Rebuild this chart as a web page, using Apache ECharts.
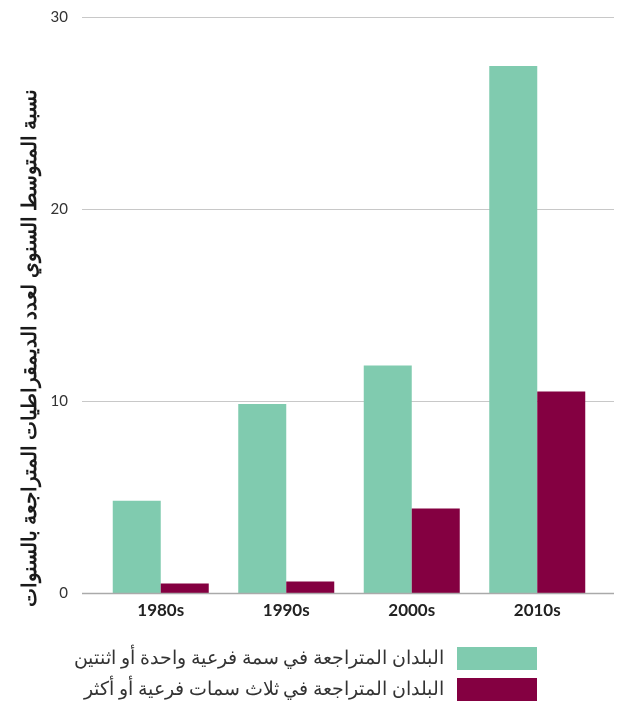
<!DOCTYPE html>
<html><head><meta charset="utf-8">
<script src="https://cdn.jsdelivr.net/npm/echarts@6/dist/echarts.min.js"></script>
<style>html,body{margin:0;padding:0;background:#fff}#c{width:624px;height:708px}</style>
</head><body><div id="c"></div>
<script>
const categories = ['1980s', '1990s', '2000s', '2010s'];
const series1Name = 'البلدان المتراجعة في سمة فرعية واحدة أو اثنتين';
const series2Name = 'البلدان المتراجعة في ثلاث سمات فرعية أو أكثر';
const series1Values = [4.8, 9.85, 11.85, 27.45];
const series2Values = [0.5, 0.6, 4.4, 10.5];
const yAxisTitle = 'نسبة المتوسط السنوي لعدد الديمقراطيات المتراجعة بالسنوات';

const chart = echarts.init(document.getElementById('c'));
chart.setOption({
  animation: false,
  backgroundColor: '#fff',
  grid: [
    {left: 82, right: 10, top: 17, bottom: 115},
    {left: 98, right: 24, top: 17, bottom: 115}
  ],
  xAxis: [
    {gridIndex: 0, type: 'value', show: false, min: 0, max: 1},
    {gridIndex: 1, type: 'category', data: categories,
     axisLine: {show: false}, axisTick: {show: false},
     axisLabel: {margin: 9, fontSize: 17, fontWeight: 'bold', color: '#222', fontFamily: 'Lato'}}
  ],
  yAxis: [
    {gridIndex: 0, type: 'value', min: 0, max: 30, interval: 10,
     axisLine: {show: false}, axisTick: {show: false},
     axisLabel: {margin: 14, fontSize: 15, color: '#333', fontFamily: 'Lato'},
     splitLine: {lineStyle: {color: '#c8c8c8', width: 1}}},
    {gridIndex: 1, type: 'value', min: 0, max: 30, interval: 10, show: false}
  ],
  legend: [
    {data: [series1Name], right: 82, top: 642, orient: 'vertical', align: 'right',
     itemWidth: 80, itemHeight: 23, icon: 'rect',
     textStyle: {fontSize: 18.5, color: '#333', fontFamily: 'Noto Sans', padding: [0, 8, 0, 0]}},
    {data: [series2Name], right: 82, top: 673, orient: 'vertical', align: 'right',
     itemWidth: 80, itemHeight: 23, icon: 'rect',
     textStyle: {fontSize: 18.5, color: '#333', fontFamily: 'Noto Sans', padding: [0, 8, 0, 0]}}
  ],
  graphic: [
    {type: 'text', x: 30, y: 348, rotation: Math.PI / 2,
     style: {text: yAxisTitle, fontSize: 19.5, fontWeight: 'bold', fill: '#1a1a1a',
             fontFamily: 'Noto Sans', align: 'center', verticalAlign: 'middle'}},
    {type: 'line', shape: {x1: 82, y1: 593.5, x2: 614, y2: 593.5},
     style: {stroke: '#aaaaaa', lineWidth: 1.5}, z: 10}
  ],
  series: [
    {name: series1Name, type: 'bar', xAxisIndex: 1, yAxisIndex: 1, data: series1Values,
     barWidth: 48, barGap: '0%', itemStyle: {color: '#80cbaf'}},
    {name: series2Name, type: 'bar', xAxisIndex: 1, yAxisIndex: 1, data: series2Values,
     barWidth: 48, barGap: '0%', itemStyle: {color: '#840041'}}
  ]
});
</script></body></html>
